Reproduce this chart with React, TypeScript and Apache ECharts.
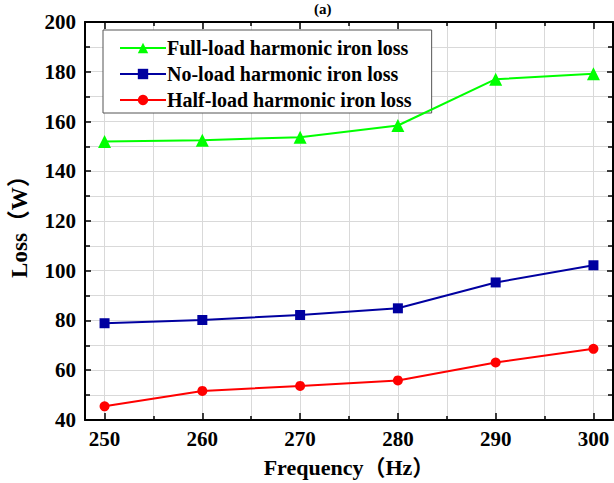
import React, { useEffect, useRef } from "react";
import * as echarts from "echarts";

const frequencies = [250, 260, 270, 280, 290, 300];
const fullLoad = [152.0, 152.5, 153.7, 158.4, 177.0, 179.2];
const noLoad = [78.9, 80.2, 82.2, 84.9, 95.3, 102.2];
const halfLoad = [45.5, 51.7, 53.7, 55.9, 63.1, 68.6];
const xMajorTicks = [250, 260, 270, 280, 290, 300];
const xMinorTicks = [255, 265, 275, 285, 295];
const seriesNames = [
  "Full-load harmonic iron loss",
  "No-load harmonic iron loss",
  "Half-load harmonic iron loss",
];

const FONT = "'Liberation Serif', 'Times New Roman', 'Noto Sans CJK SC', serif";

export default function App() {
  const ref = useRef<HTMLDivElement>(null);
  useEffect(() => {
    document.body.style.margin = "0";
    const chart = echarts.init(ref.current!, null, { renderer: "svg" });
    const pairs = (ys: number[]) => frequencies.map((f, i) => [f, ys[i]]);
    const gridColor = "#d9d9d9";
    const xBase = {
      type: "value",
      min: 248,
      max: 302,
      gridIndex: 0,
    };
    const yBase = {
      type: "value",
      min: 40,
      max: 200,
      interval: 20,
    };
    chart.setOption({
      animation: false,
      backgroundColor: "#ffffff",
      textStyle: { fontFamily: FONT },
      grid: { left: 82, right: 1, top: 22, bottom: 61 },
      graphic: [
        {
          type: "text",
          left: 324 - 10,
          top: 1,
          style: {
            text: "(a)",
            font: `bold 15px ${FONT}`,
            fill: "#000",
          },
        },
      ],
      legend: {
        orient: "vertical",
        left: 103,
        top: 30,
        padding: [8, 20, 3, 16],
        itemGap: 6,
        itemWidth: 46,
        itemHeight: 13,
        borderColor: "#555",
        borderWidth: 1,
        backgroundColor: "#fff",
        textStyle: {
          fontFamily: FONT,
          fontWeight: "bold",
          fontSize: 20,
          color: "#000",
          padding: [0, 0, 0, -4],
        },
        data: seriesNames,
      },
      xAxis: [
        {
          ...xBase,
          position: "bottom",
          name: "Frequency（Hz）",
          nameLocation: "middle",
          nameGap: 36,
          nameTextStyle: { fontFamily: FONT, fontWeight: "bold", fontSize: 22, color: "#000" },
          axisLine: { show: true, onZero: false, lineStyle: { color: "#000", width: 2 } },
          axisTick: { show: true, inside: true, length: 7, customValues: xMajorTicks, lineStyle: { color: "#000", width: 1.5 } },
          axisLabel: {
            show: true,
            customValues: xMajorTicks,
            margin: 9,
            fontFamily: FONT,
            fontWeight: "bold",
            fontSize: 21,
            color: "#000",
          },
          splitLine: { show: true, lineStyle: { color: gridColor, width: 1 } },
        },
        {
          ...xBase,
          position: "bottom",
          axisLine: { show: false, onZero: false },
          axisTick: { show: true, inside: true, length: 4, customValues: xMinorTicks, lineStyle: { color: "#000", width: 1.5 } },
          axisLabel: { show: false },
          splitLine: { show: true, lineStyle: { color: gridColor, width: 1 } },
        },
        {
          ...xBase,
          position: "top",
          axisLine: { show: true, onZero: false, lineStyle: { color: "#000", width: 2 } },
          axisTick: { show: true, inside: true, length: 7, customValues: xMajorTicks, lineStyle: { color: "#000", width: 1.5 } },
          axisLabel: { show: false },
          splitLine: { show: false },
        },
        {
          ...xBase,
          position: "top",
          axisLine: { show: false, onZero: false },
          axisTick: { show: true, inside: true, length: 4, customValues: xMinorTicks, lineStyle: { color: "#000", width: 1.5 } },
          axisLabel: { show: false },
          splitLine: { show: false },
        },
      ],
      yAxis: [
        {
          ...yBase,
          position: "left",
          name: "Loss（W）",
          nameLocation: "middle",
          nameGap: 54,
          nameTextStyle: { fontFamily: FONT, fontWeight: "bold", fontSize: 23, color: "#000" },
          axisLine: { show: true, onZero: false, lineStyle: { color: "#000", width: 2 } },
          axisTick: { show: true, inside: true, length: 6, lineStyle: { color: "#000", width: 1.5 } },
          minorTick: { show: true, splitNumber: 2, length: 5, lineStyle: { color: "#000", width: 1.5 } },
          axisLabel: {
            margin: 9,
            fontFamily: FONT,
            fontWeight: "bold",
            fontSize: 21,
            color: "#000",
          },
          splitLine: { show: true, lineStyle: { color: gridColor, width: 1 } },
          minorSplitLine: { show: true, lineStyle: { color: gridColor, width: 1 } },
        },
        {
          ...yBase,
          position: "right",
          axisLine: { show: true, onZero: false, lineStyle: { color: "#000", width: 2 } },
          axisTick: { show: true, inside: true, length: 6, lineStyle: { color: "#000", width: 1.5 } },
          minorTick: { show: true, splitNumber: 2, length: 5, lineStyle: { color: "#000", width: 1.5 } },
          axisLabel: { show: false },
          splitLine: { show: false },
        },
      ],
      series: [
        {
          name: seriesNames[0],
          type: "line",
          xAxisIndex: 0,
          yAxisIndex: 0,
          data: pairs(fullLoad),
          symbol: "triangle",
          symbolSize: 13,
          color: "#00ff00",
          lineStyle: { color: "#00ff00", width: 2 },
          itemStyle: { color: "#00ff00" },
          z: 5,
        },
        {
          name: seriesNames[1],
          type: "line",
          xAxisIndex: 0,
          yAxisIndex: 0,
          data: pairs(noLoad),
          symbol: "rect",
          symbolSize: 10,
          color: "#0000a0",
          lineStyle: { color: "#0000a0", width: 2 },
          itemStyle: { color: "#0000a0" },
          z: 5,
        },
        {
          name: seriesNames[2],
          type: "line",
          xAxisIndex: 0,
          yAxisIndex: 0,
          data: pairs(halfLoad),
          symbol: "circle",
          symbolSize: 10,
          color: "#ff0000",
          lineStyle: { color: "#ff0000", width: 2 },
          itemStyle: { color: "#ff0000" },
          z: 5,
        },
      ],
    });
    return () => chart.dispose();
  }, []);
  return <div ref={ref} style={{ width: 614, height: 483 }} />;
}
